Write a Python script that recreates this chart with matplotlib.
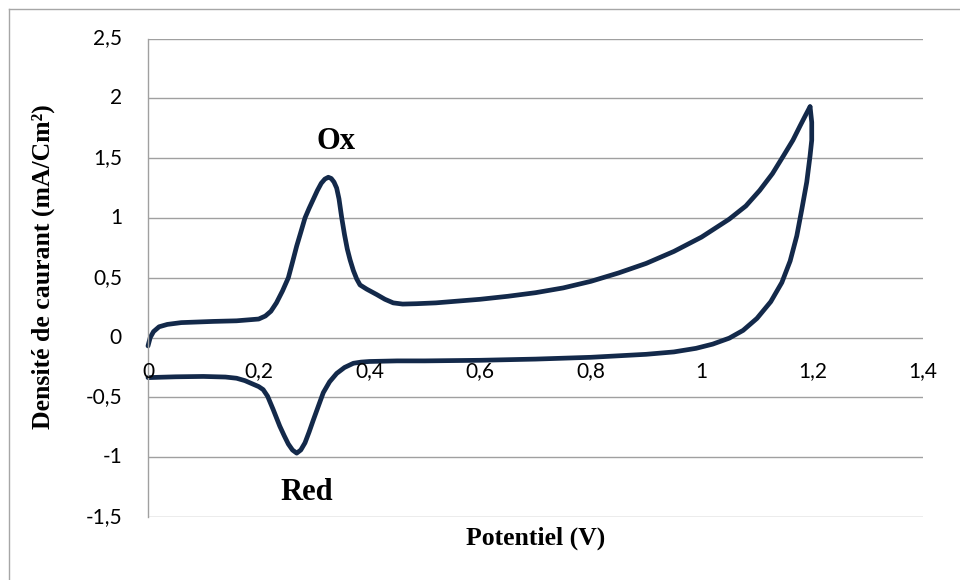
import matplotlib
matplotlib.use("Agg")
import matplotlib.pyplot as plt
from matplotlib.lines import Line2D

# Cyclic voltammogram: anodic (forward) and cathodic (reverse) sweeps
potential_fwd = [0.000, 0.004, 0.010, 0.020, 0.035, 0.06, 0.118, 0.16, 0.20, 0.212, 0.222,
                 0.232, 0.243, 0.2535, 0.261, 0.2686, 0.276, 0.2836, 0.291, 0.2986, 0.306,
                 0.313, 0.3195, 0.3257, 0.331, 0.3360, 0.3408, 0.345, 0.350, 0.355, 0.360,
                 0.365, 0.371, 0.377, 0.383, 0.395, 0.413, 0.428, 0.443, 0.46, 0.485, 0.52,
                 0.56, 0.60, 0.65, 0.70, 0.75, 0.80, 0.85, 0.90, 0.95, 1.00, 1.05, 1.08,
                 1.105, 1.128, 1.148, 1.165, 1.178, 1.188, 1.196]
current_fwd = [-0.07, 0.00, 0.05, 0.09, 0.11, 0.125, 0.135, 0.14, 0.155, 0.18, 0.22,
               0.29, 0.39, 0.50, 0.63, 0.765, 0.88, 1.00, 1.08, 1.156, 1.23,
               1.29, 1.325, 1.34, 1.33, 1.30, 1.25, 1.16, 1.00, 0.86, 0.74,
               0.65, 0.56, 0.49, 0.44, 0.405, 0.36, 0.32, 0.29, 0.28, 0.283, 0.29,
               0.305, 0.32, 0.345, 0.375, 0.415, 0.47, 0.54, 0.62, 0.72, 0.84, 0.99, 1.10,
               1.23, 1.37, 1.52, 1.65, 1.77, 1.86, 1.93]

potential_rev = [1.196, 1.199, 1.199, 1.196, 1.190, 1.181, 1.172, 1.160, 1.145, 1.125,
                 1.10, 1.075, 1.05, 1.02, 0.99, 0.95, 0.90, 0.80, 0.70, 0.60, 0.50,
                 0.45, 0.40, 0.385, 0.371, 0.355, 0.3408, 0.328, 0.3167, 0.308, 0.2986,
                 0.291, 0.2836, 0.276, 0.2686, 0.261, 0.2535, 0.246, 0.238, 0.226, 0.216,
                 0.208, 0.20, 0.19, 0.175, 0.16, 0.14, 0.10, 0.05, 0.02, 0.000]
current_rev = [1.93, 1.80, 1.65, 1.52, 1.30, 1.07, 0.85, 0.64, 0.46, 0.30,
               0.16, 0.06, -0.005, -0.055, -0.09, -0.12, -0.14, -0.165, -0.18, -0.19, -0.195,
               -0.195, -0.20, -0.205, -0.215, -0.25, -0.30, -0.37, -0.46, -0.57, -0.69,
               -0.79, -0.88, -0.94, -0.966, -0.94, -0.89, -0.82, -0.74, -0.60, -0.49,
               -0.435, -0.41, -0.39, -0.36, -0.34, -0.33, -0.325, -0.328, -0.332, -0.335]

x_ticks = [0, 0.2, 0.4, 0.6, 0.8, 1.0, 1.2, 1.4]
x_tick_labels = ["0", "0,2", "0,4", "0,6", "0,8", "1", "1,2", "1,4"]
y_ticks = [-1.5, -1.0, -0.5, 0, 0.5, 1.0, 1.5, 2.0, 2.5]
y_tick_labels = ["-1,5", "-1", "-0,5", "0", "0,5", "1", "1,5", "2", "2,5"]

W, H = 960, 580
fig = plt.figure(figsize=(W / 100, H / 100), dpi=100)
fig.patch.set_facecolor("white")

# chart frame (top and left edges)
border = "#A6A6A6"
fig.add_artist(Line2D([9 / W, 1.0], [1 - 9 / H, 1 - 9 / H], color=border, lw=1.0,
                      transform=fig.transFigure))
fig.add_artist(Line2D([9 / W, 9 / W], [0.0, 1 - 9 / H], color=border, lw=1.0,
                      transform=fig.transFigure))

left, right, top, bottom = 148, 923, 38.5, 517
ax = fig.add_axes([left / W, 1 - bottom / H, (right - left) / W, (bottom - top) / H])
ax.set_xlim(0, 1.4)
ax.set_ylim(-1.5, 2.5)

grid = "#A0A0A0"
for s in ["top", "right", "bottom"]:
    ax.spines[s].set_visible(False)
ax.spines["left"].set_color(grid)
ax.spines["left"].set_linewidth(1.0)
ax.set_yticks(y_ticks)
ax.set_yticklabels([])
ax.set_xticks([])
ax.tick_params(axis="y", length=0)
ax.yaxis.grid(True, color=grid, lw=1.0)
ax.set_axisbelow(True)

tick_font = dict(family="Lato", fontsize=15, color="black")
for v, lab in zip(y_ticks, y_tick_labels):
    ax.annotate(lab, xy=(0, v), xycoords="data", xytext=(-26, 0),
                textcoords="offset pixels", ha="right", va="center", **tick_font)
for v, lab in zip(x_ticks, x_tick_labels):
    ax.annotate(lab, xy=(v, 0), xycoords="data", xytext=(0, -34),
                textcoords="offset pixels", ha="center", va="center", **tick_font)

line_color = "#13294A"
ax.plot(potential_fwd, current_fwd, color=line_color, lw=3.4,
        solid_joinstyle="round", solid_capstyle="round", clip_on=False)
ax.plot(potential_rev, current_rev, color=line_color, lw=3.4,
        solid_joinstyle="round", solid_capstyle="round", clip_on=False)

title_font = dict(family="Liberation Serif", fontweight="bold", color="black")
fig.text(536 / W, 1 - 538 / H, "Potentiel (V)", ha="center", va="center",
         fontsize=18.5, **title_font)
fig.text(43 / W, 1 - 267 / H, "Densité de caurant (mA/Cm²)", ha="center", va="center",
         rotation=90, fontsize=18.5, **title_font)

fig.text(336 / W, 1 - 142 / H, "Ox", ha="center", va="center", fontsize=22, **title_font)
fig.text(307 / W, 1 - 493 / H, "Red", ha="center", va="center", fontsize=22, **title_font)

fig.savefig("out.png", dpi=100, facecolor="white")
